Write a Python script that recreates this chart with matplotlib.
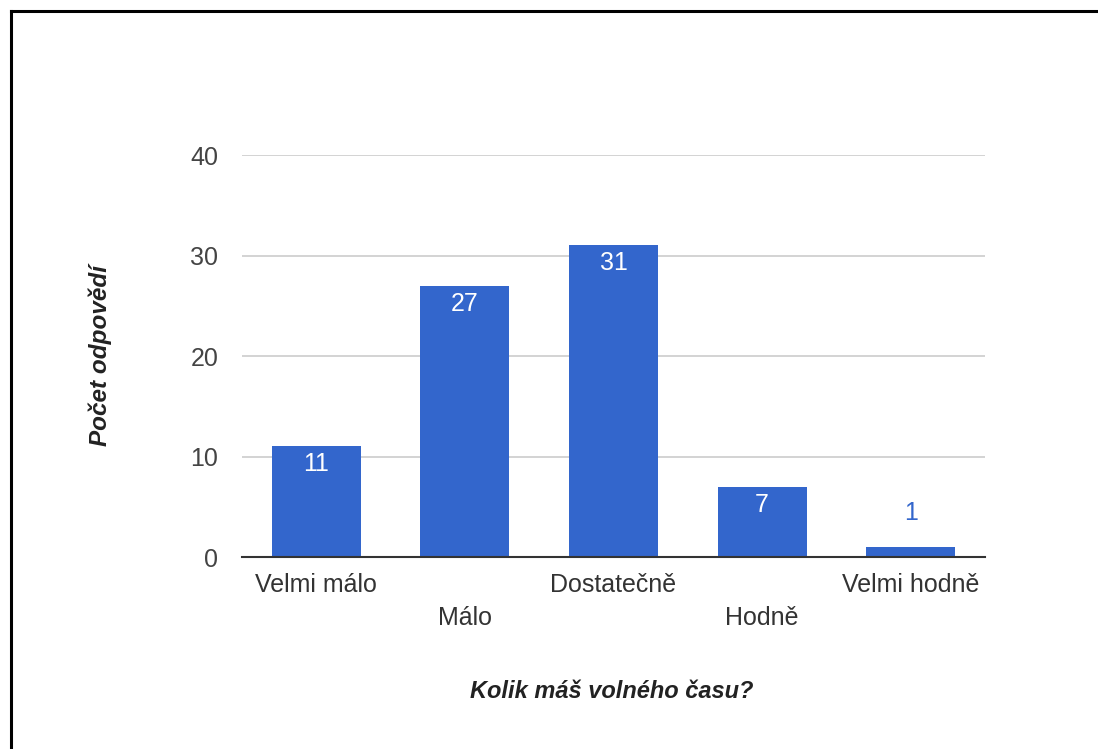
import matplotlib.pyplot as plt
from matplotlib.lines import Line2D

categories = ["Velmi málo", "Málo", "Dostatečně", "Hodně", "Velmi hodně"]
counts = [11, 27, 31, 7, 1]
yticks = [0, 10, 20, 30, 40]

bar_color = "#3366CC"
plt.rcParams['font.family'] = ['Liberation Sans', 'DejaVu Sans']

fig = plt.figure(figsize=(10.98, 7.49), dpi=100)
ax = fig.add_axes([0.2204, 0.2563, 0.6767, 0.5367])

x = range(len(categories))
bars = ax.bar(x, counts, width=0.6, color=bar_color, zorder=2)

ax.set_xlim(-0.5, len(categories) - 0.5)
ax.set_ylim(0, 40)
ax.set_yticks(yticks)
ax.set_yticklabels([str(t) for t in yticks], fontsize=18, color="#444444")
ax.tick_params(axis='y', length=0, pad=17)
ax.grid(axis='y', color="#cccccc", linewidth=1.2, zorder=0)
for s in ['top', 'right', 'left']:
    ax.spines[s].set_visible(False)
ax.spines['bottom'].set_color("#333333")
ax.spines['bottom'].set_linewidth(1.5)
ax.spines['bottom'].set_zorder(3)

# staggered category labels
ax.set_xticks([])
for i, name in enumerate(categories):
    off = -28 if i % 2 == 0 else -61
    ax.annotate(name, (i, 0), xytext=(0, off), textcoords='offset pixels',
                ha='center', va='center', fontsize=18, color="#333333")

# value labels
for i, v in enumerate(counts):
    if v >= 3:
        ax.annotate(str(v), (i, v), xytext=(0, -18), textcoords='offset pixels',
                    ha='center', va='center', fontsize=18, color="white", zorder=4)
    else:
        ax.annotate(str(v), (i, v), xytext=(0, 34), textcoords='offset pixels',
                    ha='center', va='center', fontsize=18, color=bar_color, zorder=4)

fig.text(100 / 1098, 1 - 356 / 749, "Počet odpovědí", rotation=90, ha='center', va='center',
         fontsize=17.5, fontstyle='italic', fontweight='bold', color="#222222")
fig.text(612 / 1098, 1 - 692 / 749, "Kolik máš volného času?", ha='center', va='center',
         fontsize=17, fontstyle='italic', fontweight='bold', color="#222222")

# frame lines (top and left only)
fig.add_artist(Line2D([10.5 / 1098, 1], [1 - 11 / 749, 1 - 11 / 749], transform=fig.transFigure,
                      color="black", linewidth=2.2))
fig.add_artist(Line2D([10.5 / 1098, 10.5 / 1098], [0, 1 - 11 / 749], transform=fig.transFigure,
                      color="black", linewidth=2.2))

fig.savefig("out.png", dpi=100)
